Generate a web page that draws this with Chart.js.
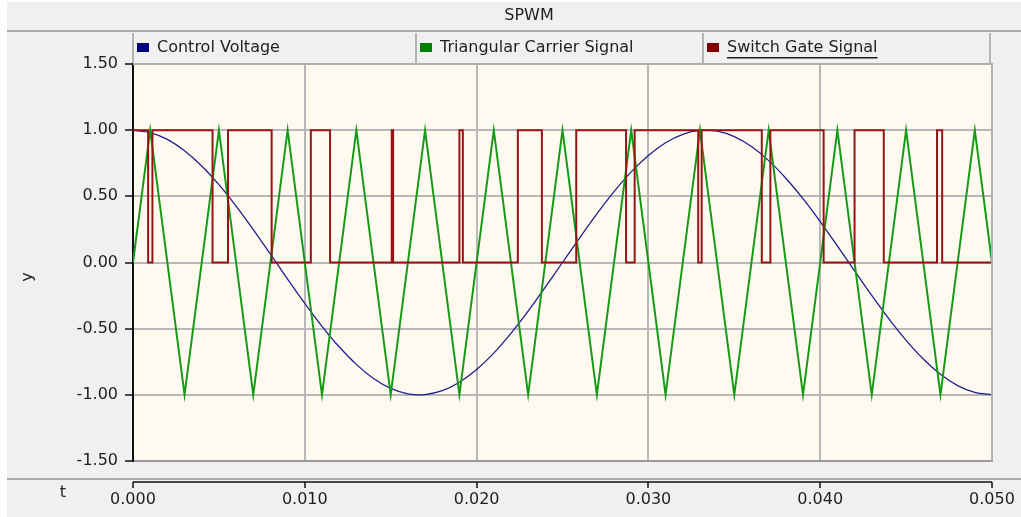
<!DOCTYPE html>
<html lang="en">
<head>
  <meta charset="UTF-8">
  <title>SPWM</title>
  <script src="https://cdn.jsdelivr.net/npm/chart.js"></script>
  <style>
    body { margin: 0; background: #fff; }
    canvas { display: block; }
  </style>
</head>
<body>
  <canvas id="spwmChart" width="1021" height="517"></canvas>

  <script>
    // chart text
    const chartTitle = 'SPWM';
    const seriesNames = ['Control Voltage', 'Triangular Carrier Signal', 'Switch Gate Signal'];
    const xTicks = [0, 0.01, 0.02, 0.03, 0.04, 0.05];
    const yTicks = [-1.5, -1.0, -0.5, 0, 0.5, 1.0, 1.5];

    // control voltage, sampled every 1 ms
    const controlTimes = [0, 0.001, 0.002, 0.003, 0.004, 0.005, 0.006, 0.007, 0.008, 0.009,
      0.010, 0.011, 0.012, 0.013, 0.014, 0.015, 0.016, 0.017, 0.018, 0.019,
      0.020, 0.021, 0.022, 0.023, 0.024, 0.025, 0.026, 0.027, 0.028, 0.029,
      0.030, 0.031, 0.032, 0.033, 0.034, 0.035, 0.036, 0.037, 0.038, 0.039,
      0.040, 0.041, 0.042, 0.043, 0.044, 0.045, 0.046, 0.047, 0.048, 0.049, 0.050];
    const controlVoltage = [1.000, 0.982, 0.930, 0.844, 0.729, 0.588, 0.426, 0.249, 0.063, -0.125,
      -0.309, -0.482, -0.637, -0.770, -0.876, -0.951, -0.992, -0.998, -0.969, -0.905,
      -0.809, -0.685, -0.536, -0.368, -0.187, 0.000, 0.187, 0.368, 0.536, 0.685,
      0.809, 0.905, 0.969, 0.998, 0.992, 0.951, 0.876, 0.770, 0.637, 0.482,
      0.309, 0.125, -0.063, -0.249, -0.426, -0.588, -0.729, -0.844, -0.930, -0.982, -1.000];

    // triangular carrier, corner points
    const carrierTimes = [0, 0.001, 0.003, 0.005, 0.007, 0.009, 0.011, 0.013, 0.015, 0.017,
      0.019, 0.021, 0.023, 0.025, 0.027, 0.029, 0.031, 0.033, 0.035, 0.037,
      0.039, 0.041, 0.043, 0.045, 0.047, 0.049, 0.050];
    const carrierSignal = [0, 1, -1, 1, -1, 1, -1, 1, -1, 1,
      -1, 1, -1, 1, -1, 1, -1, 1, -1, 1,
      -1, 1, -1, 1, -1, 1, 0];

    // gate signal: switching instants and the level after each one
    const gateTimes = [0, 0.00088, 0.00113, 0.00463, 0.00553, 0.00807, 0.01035, 0.01147, 0.01506, 0.01514,
      0.01900, 0.01920, 0.02240, 0.02380, 0.02580, 0.02870, 0.02920, 0.03290, 0.03310, 0.03660,
      0.03710, 0.04020, 0.04200, 0.04370, 0.04680, 0.04710, 0.05];
    const gateSignal = [1, 0, 1, 0, 1, 0, 1, 0, 1, 0,
      1, 0, 1, 0, 1, 0, 1, 0, 1, 0,
      1, 0, 1, 0, 1, 0, 0];

    const lineColors = ['#1f1f8e', '#169a16', '#981414'];
    const keyColors = ['#000080', '#008000', '#800000'];
    const FONT = '16px "DejaVu Sans"';
    const TEXT = '#1e1e1e';

    const toPoints = (xs, ys) => xs.map((x, i) => ({ x: x, y: ys[i] }));

    const framePlugin = {
      id: 'frame',
      beforeDraw(chart) {
        const { ctx, chartArea: a, width: w, height: h } = chart;
        ctx.save();
        ctx.fillStyle = '#ffffff';
        ctx.fillRect(0, 0, w, h);
        ctx.fillStyle = '#f0f0f0';
        ctx.fillRect(7, 2, w - 7, h - 2);

        // title bar
        ctx.fillStyle = TEXT;
        ctx.font = FONT;
        ctx.textAlign = 'center';
        ctx.textBaseline = 'middle';
        ctx.fillText(chartTitle, 529, 16);
        ctx.fillStyle = '#a9a9a9';
        ctx.fillRect(7, 30, w - 7, 2);
        ctx.fillRect(7, 478, w - 7, 2);

        // legend strip
        const edges = [a.left, 416, 703, 990];
        ctx.fillStyle = '#b4b4b4';
        edges.forEach(x => ctx.fillRect(x - 1, 33, 2, a.top - 33));
        ctx.textAlign = 'left';
        for (let i = 0; i < 3; i++) {
          const x0 = edges[i];
          ctx.fillStyle = keyColors[i];
          ctx.fillRect(x0 + 4, 43, 12, 9);
          ctx.fillStyle = TEXT;
          ctx.fillText(seriesNames[i], x0 + 24, 48);
          if (i === 2) {
            const tw = ctx.measureText(seriesNames[i]).width;
            ctx.fillRect(x0 + 24, 57, tw, 1.5);
          }
        }

        // plot background
        ctx.fillStyle = '#fefaef';
        ctx.fillRect(a.left, a.top, a.right - a.left, a.bottom - a.top);
        ctx.restore();
      },
      afterDraw(chart) {
        const { ctx, chartArea: a } = chart;
        const xs = chart.scales.x;
        ctx.save();
        // top and right border of the plot
        ctx.fillStyle = '#b0b0b0';
        ctx.fillRect(a.left, a.top - 1, a.right - a.left + 1, 2);
        ctx.fillRect(a.right - 1, a.top - 1, 2, a.bottom - a.top + 1);

        // separate time axis strip
        ctx.strokeStyle = '#111';
        ctx.lineWidth = 1.5;
        ctx.beginPath();
        ctx.moveTo(a.left, 482);
        ctx.lineTo(a.right, 482);
        xTicks.forEach(v => {
          const px = Math.round(xs.getPixelForValue(v));
          ctx.moveTo(px, 482);
          ctx.lineTo(px, 488);
        });
        ctx.stroke();

        ctx.fillStyle = TEXT;
        ctx.font = FONT;
        ctx.textAlign = 'center';
        ctx.textBaseline = 'middle';
        ctx.fillText('t', 63, 493);
        ctx.translate(28, 277);
        ctx.rotate(-Math.PI / 2);
        ctx.fillText('y', 0, 0);
        ctx.restore();
      }
    };

    const ctx = document.getElementById('spwmChart').getContext('2d');
    new Chart(ctx, {
      type: 'line',
      data: {
        datasets: [
          {
            label: seriesNames[2],
            data: toPoints(gateTimes, gateSignal),
            borderColor: lineColors[2],
            borderWidth: 2,
            stepped: true,
            pointRadius: 0,
            order: 0
          },
          {
            label: seriesNames[1],
            data: toPoints(carrierTimes, carrierSignal),
            borderColor: lineColors[1],
            borderWidth: 2,
            pointRadius: 0,
            order: 1
          },
          {
            label: seriesNames[0],
            data: toPoints(controlTimes, controlVoltage),
            borderColor: lineColors[0],
            borderWidth: 1.3,
            tension: 0.3,
            pointRadius: 0,
            order: 2
          }
        ]
      },
      options: {
        responsive: false,
        animation: false,
        events: [],
        layout: { padding: { top: 64, right: 29, left: 0, bottom: 0 } },
        plugins: {
          legend: { display: false },
          title: { display: false },
          tooltip: { enabled: false }
        },
        scales: {
          x: {
            type: 'linear',
            min: 0,
            max: 0.05,
            afterFit: s => { s.height = 56; s.paddingLeft = 0; s.paddingRight = 0; },
            afterBuildTicks: s => { s.ticks = xTicks.map(v => ({ value: v })); },
            grid: { color: '#b8b8b8', lineWidth: 2, drawTicks: false },
            border: { display: true, color: '#9a9a9a', width: 2 },
            ticks: {
              padding: 29,
              maxRotation: 0,
              color: TEXT,
              font: { family: 'DejaVu Sans', size: 16 },
              callback: v => v.toFixed(3)
            }
          },
          y: {
            min: -1.5,
            max: 1.5,
            afterFit: s => { s.width = 133; s.paddingTop = 0; s.paddingBottom = 0; },
            afterBuildTicks: s => { s.ticks = yTicks.map(v => ({ value: v })); },
            grid: { color: '#b8b8b8', lineWidth: 2, tickColor: '#111', tickLength: 8, tickWidth: 1.5 },
            border: { display: true, color: '#111', width: 2 },
            ticks: {
              padding: 7,
              color: TEXT,
              font: { family: 'DejaVu Sans', size: 16 },
              callback: v => v.toFixed(2)
            }
          }
        }
      },
      plugins: [framePlugin]
    });
  </script>
</body>
</html>
